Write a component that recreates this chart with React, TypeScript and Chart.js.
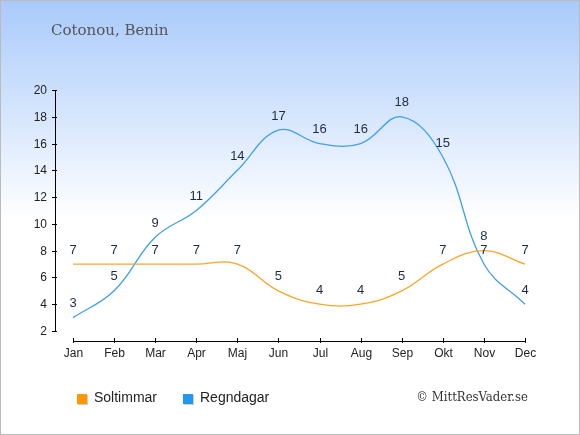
import { useEffect, useRef } from "react";
import { Chart, registerables, type Plugin } from "chart.js";

Chart.register(...registerables);

// Cotonou, Benin – soltimmar och regndagar per månad
const MONTHS = ["Jan", "Feb", "Mar", "Apr", "Maj", "Jun", "Jul", "Aug", "Sep", "Okt", "Nov", "Dec"];
const SUN_HOURS = [7, 7, 7, 7, 7, 5, 4, 4, 5, 7, 8, 7];
const RAIN_DAYS = [3, 5, 9, 11, 14, 17, 16, 16, 18, 15, 7, 4];
const Y_TICKS = [2, 4, 6, 8, 10, 12, 14, 16, 18, 20];

const TITLE = "Cotonou, Benin";
const SUN_LABEL = "Soltimmar";
const RAIN_LABEL = "Regndagar";
const CREDIT = "© MittResVader.se";

const SUN_LINE = "#fda52a";
const RAIN_LINE = "#3f9ff0";
const SUN_KEY = "#ff9800";
const RAIN_KEY = "#2196f3";

const SANS = "'Liberation Sans', Arial, sans-serif";
const SERIF = "'DejaVu Serif', serif";
const SERIF_NARROW = "'DejaVu Serif Condensed', 'DejaVu Serif', serif";

// bakgrund, ram och rubrik
const backdrop: Plugin<"line"> = {
  id: "backdrop",
  beforeDraw(chart) {
    const { ctx, width, height } = chart;
    ctx.save();
    const g = ctx.createLinearGradient(0, 0, 0, 220);
    g.addColorStop(0, "#a9cafb");
    g.addColorStop(1, "#ffffff");
    ctx.fillStyle = "#ffffff";
    ctx.fillRect(0, 0, width, height);
    ctx.fillStyle = g;
    ctx.fillRect(0, 0, width, 220);
    ctx.strokeStyle = "#bbbbbb";
    ctx.lineWidth = 1;
    ctx.strokeRect(0.5, 0.5, width - 1, height - 1);

    ctx.fillStyle = "#555555";
    ctx.font = `15px ${SERIF}`;
    ctx.textBaseline = "middle";
    ctx.textAlign = "left";
    ctx.fillText(TITLE, 51, 31);
    ctx.restore();
  },
};

// axlar med egna tickar, utanför ritytan
const axes: Plugin<"line"> = {
  id: "axes",
  afterDraw(chart) {
    const { ctx } = chart;
    const x = chart.scales.x;
    const y = chart.scales.y;
    const axisX = 55;
    const axisY = 341;
    ctx.save();
    ctx.strokeStyle = "#000000";
    ctx.lineWidth = 1;
    ctx.fillStyle = "#222222";
    ctx.font = `12px ${SANS}`;

    // y-axel
    const yTop = Math.round(y.getPixelForValue(Y_TICKS[Y_TICKS.length - 1])) + 0.5;
    const yBot = Math.round(y.getPixelForValue(Y_TICKS[0])) + 0.5;
    ctx.beginPath();
    ctx.moveTo(axisX + 0.5, yTop);
    ctx.lineTo(axisX + 0.5, yBot);
    ctx.stroke();
    ctx.textAlign = "right";
    ctx.textBaseline = "middle";
    Y_TICKS.forEach((t) => {
      const py = Math.round(y.getPixelForValue(t)) + 0.5;
      ctx.beginPath();
      ctx.moveTo(axisX - 3, py);
      ctx.lineTo(axisX + 2, py);
      ctx.stroke();
      ctx.fillText(String(t), axisX - 8, py);
    });

    // x-axel
    const xL = Math.round(x.getPixelForValue(0)) + 0.5;
    const xR = Math.round(x.getPixelForValue(MONTHS.length - 1)) + 0.5;
    ctx.beginPath();
    ctx.moveTo(xL, axisY + 0.5);
    ctx.lineTo(xR, axisY + 0.5);
    ctx.stroke();
    ctx.textAlign = "center";
    ctx.textBaseline = "middle";
    MONTHS.forEach((m, i) => {
      const px = Math.round(x.getPixelForValue(i)) + 0.5;
      ctx.beginPath();
      ctx.moveTo(px, axisY - 3);
      ctx.lineTo(px, axisY + 2);
      ctx.stroke();
      ctx.fillText(m, px, axisY + 13);
    });
    ctx.restore();
  },
};

// värden ovanför varje punkt
const valueLabels: Plugin<"line"> = {
  id: "valueLabels",
  afterDatasetsDraw(chart) {
    const { ctx } = chart;
    ctx.save();
    ctx.fillStyle = "#1d2b48";
    ctx.font = `13px ${SANS}`;
    ctx.textAlign = "center";
    ctx.textBaseline = "middle";
    chart.data.datasets.forEach((ds, di) => {
      const meta = chart.getDatasetMeta(di);
      meta.data.forEach((pt, i) => {
        ctx.fillText(String(ds.data[i]), pt.x, pt.y - 14);
      });
    });
    ctx.restore();
  },
};

// förklaring och källa
const footer: Plugin<"line"> = {
  id: "footer",
  afterDraw(chart) {
    const { ctx } = chart;
    const items = [
      { label: SUN_LABEL, color: SUN_KEY, x: 77 },
      { label: RAIN_LABEL, color: RAIN_KEY, x: 183 },
    ];
    ctx.save();
    ctx.textBaseline = "middle";
    ctx.textAlign = "left";
    ctx.font = `14px ${SANS}`;
    items.forEach((it) => {
      ctx.fillStyle = "#cccccc";
      ctx.fillRect(it.x + 1, 395, 10, 10);
      ctx.fillStyle = it.color;
      ctx.fillRect(it.x, 394, 10, 10);
      ctx.fillStyle = "#222222";
      ctx.fillText(it.label, it.x + 17, 398);
    });
    ctx.fillStyle = "#333333";
    ctx.font = `13px ${SERIF_NARROW}`;
    ctx.textAlign = "right";
    ctx.fillText(CREDIT, 528, 398);
    ctx.restore();
  },
};

export default function App() {
  const canvasRef = useRef<HTMLCanvasElement>(null);

  useEffect(() => {
    document.body.style.margin = "0";
    const canvas = canvasRef.current;
    if (!canvas) return;
    const chart = new Chart(canvas, {
      type: "line",
      data: {
        labels: MONTHS,
        datasets: [
          {
            label: SUN_LABEL,
            data: SUN_HOURS,
            borderColor: SUN_LINE,
            borderWidth: 1.3,
            pointRadius: 0,
            tension: 0.4,
            fill: false,
          },
          {
            label: RAIN_LABEL,
            data: RAIN_DAYS,
            borderColor: RAIN_LINE,
            borderWidth: 1.3,
            pointRadius: 0,
            tension: 0.4,
            fill: false,
          },
        ],
      },
      options: {
        responsive: false,
        animation: false,
        devicePixelRatio: 1,
        layout: { padding: { left: 73, right: 55, top: 90, bottom: 104 } },
        plugins: {
          legend: { display: false },
          tooltip: { enabled: false },
        },
        scales: {
          x: { type: "category", display: false, offset: false },
          y: { type: "linear", display: false, min: 2, max: 20 },
        },
      },
      plugins: [backdrop, valueLabels, axes, footer],
    });
    return () => chart.destroy();
  }, []);

  return <canvas ref={canvasRef} width={580} height={435} style={{ display: "block" }} />;
}
